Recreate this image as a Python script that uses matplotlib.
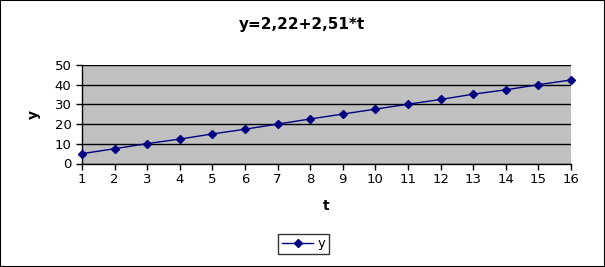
import matplotlib
matplotlib.use('Agg')
import matplotlib.pyplot as plt
from matplotlib.patches import Rectangle

# Data
t = [1, 2, 3, 4, 5, 6, 7, 8, 9, 10, 11, 12, 13, 14, 15, 16]
y = [5.0, 7.5, 10.1, 12.4, 15.0, 17.4, 20.0, 22.6, 25.1, 27.6, 30.1, 32.5, 35.2, 37.4, 40.0, 42.4]
y_ticks = [0, 10, 20, 30, 40, 50]

fig = plt.figure(figsize=(6.05, 2.67), dpi=100)
fig.patches.append(Rectangle((0, 0), 1, 1, transform=fig.transFigure,
                             fill=False, edgecolor='black', linewidth=1.5))

ax = fig.add_axes([82 / 605, 1 - 163.5 / 267, (571 - 82) / 605, (163.5 - 65) / 267])
ax.set_facecolor('#C0C0C0')

ax.plot(t, y, color='#000080', linewidth=1, marker='D', markersize=4.5,
        markerfacecolor='#000080', markeredgecolor='#000080', label='y', clip_on=False, zorder=3)

ax.set_xlim(1, 16)
ax.set_ylim(0, 50)
ax.set_xticks(t)
ax.set_yticks(y_ticks)
ax.grid(axis='y', color='black', linewidth=1)
ax.set_axisbelow(True)

for side in ['top', 'right']:
    ax.spines[side].set_visible(False)
ax.spines['left'].set_linewidth(1)
ax.spines['bottom'].set_linewidth(1)
ax.tick_params(axis='both', direction='out', length=4, width=1, labelsize=9.5, colors='black')
ax.tick_params(axis='x', pad=3)

fig.text(302 / 605, 1 - 25 / 267, 'y=2,22+2,51*t', fontsize=11, fontweight='bold',
         ha='center', va='center')
ax.set_xlabel('t', fontsize=10, fontweight='bold', labelpad=9)
ax.set_ylabel('y', fontsize=10, fontweight='bold', labelpad=10, rotation=90)

leg = ax.legend(loc='center', bbox_to_anchor=(303.5 / 605, 1 - 244 / 267),
                bbox_transform=fig.transFigure, fontsize=9.5, frameon=True,
                fancybox=False, handlelength=2.4, borderpad=0.3, handletextpad=0.3)
leg.get_frame().set_edgecolor('black')
leg.get_frame().set_linewidth(1)

fig.savefig('out.png', dpi=100)
